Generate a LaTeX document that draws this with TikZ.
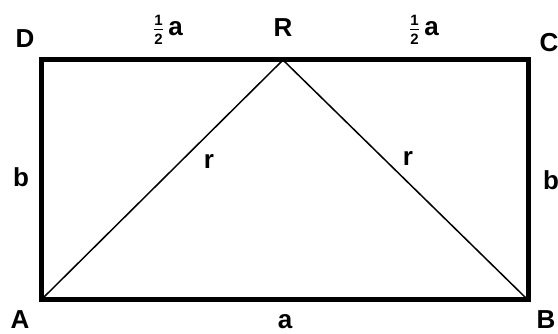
\documentclass[tikz,border=0pt]{standalone}
\usepackage{fontspec}
\setmainfont{Liberation Sans}
\newcommand{\halfsym}{$\frac{\hbox{\fontsize{15}{15}\selectfont\bfseries 1}}{\hbox{\fontsize{15}{15}\selectfont\bfseries 2}}$}
\tikzset{
  lbl/.style={font=\fontsize{26}{26}\selectfont\bfseries, inner sep=0pt},
  frame/.style={line width=5pt, line join=miter},
  diag/.style={line width=1.5pt}
}
\begin{document}
\begin{tikzpicture}[x=1pt,y=-1pt]
\useasboundingbox (0,0) rectangle (558,334);
\coordinate (A) at (41,300);
\coordinate (B) at (528,300);
\coordinate (C) at (528,60);
\coordinate (D) at (41,60);
\coordinate (R) at (283,60);
\draw[diag] (A) -- (R) -- (B);
\draw[frame] (A) -- (B) -- (C) -- (D) -- cycle;
\node[lbl] (lD) at (25,39) {D};
\node[lbl] (lR) at (283,28) {R};
\node[lbl] (lC) at (549,43) {C};
\node[lbl] (lA) at (20,320) {A};
\node[lbl] (lB) at (546,320) {B};
\node[lbl] (la) at (285,322) {a};
\node[lbl] (lb1) at (21,177) {b};
\node[lbl] (lb2) at (551,180) {b};
\node[lbl] (lr1) at (209,162) {r};
\node[lbl] (lr2) at (408,159) {r};
\node[lbl] (lh1) at (168,30) {\halfsym\,a};
\node[lbl] (lh2) at (424,30) {\halfsym\,a};
\end{tikzpicture}
\end{document}
